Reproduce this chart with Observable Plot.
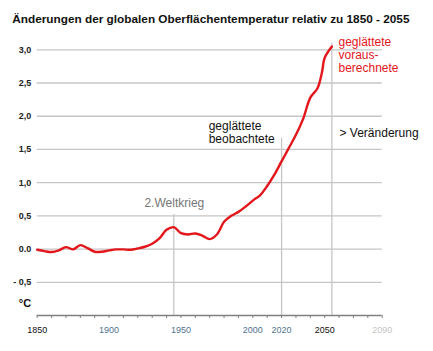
<!DOCTYPE html>
<html><head><meta charset="utf-8">
<script src="https://cdn.jsdelivr.net/npm/d3@7"></script>
<script src="https://cdn.jsdelivr.net/npm/@observablehq/plot@0.6"></script>
<style>body{margin:0;background:#fff}</style>
</head><body><div id="chart"></div>
<script>
const titleText = "Änderungen der globalen Oberflächentemperatur relativ zu 1850 - 2055";
const years = [1850,1855,1860,1865,1870,1875,1880,1885,1890,1895,1900,1905,1910,1915,1920,1925,1930,1935,1940,1945,1950,1955,1960,1965,1970,1975,1980,1985,1990,1995,2000,2005,2010,2015,2020,2025,2030,2035,2040,2045,2048,2050,2055];
const temps = [-0.01,-0.03,-0.045,-0.02,0.03,-0.005,0.06,0.015,-0.04,-0.04,-0.02,-0.005,-0.005,-0.01,0.01,0.035,0.08,0.16,0.29,0.33,0.24,0.22,0.235,0.2,0.15,0.22,0.41,0.5,0.56,0.64,0.73,0.81,0.95,1.12,1.32,1.52,1.72,1.96,2.28,2.42,2.65,2.88,3.05];
const yTicks = [-0.5,0,0.5,1,1.5,2,2.5,3];
const yLabels = ["- 0,5","0.0","0,5","1,0","1,5","2,0","2,5","3,0"];
const xTicks = [1850,1900,1950,2000,2020,2050,2090];
const xLabelKinds = ["key","mid","mid","mid","mid","key","future"];
const decadeTicks = d3.range(1850, 2091, 10);
const markerYears = [1945, 2020, 2055];
const markerTops = [0.52, 1.67, 3.1];

const data = years.map((y,i)=>({year:y, t:temps[i]}));
const markers = markerYears.map((y,i)=>({year:y, top:markerTops[i]}));
const xColor = {key:"#111", mid:"#4f7390", future:"#c4c4c4"};
const xLab = xTicks.map((y,i)=>({year:y, kind:xLabelKinds[i]}));
const yLab = yTicks.map((v,i)=>({v, label:yLabels[i]}));

const font = "Liberation Sans, Arial, Helvetica, sans-serif";
const chart = Plot.plot({
  width: 433, height: 351,
  marginTop: 49.3, marginBottom: 36, marginLeft: 36.7, marginRight: 51.3,
  style: {fontFamily: font, fontSize: "12px", background: "#fff", overflow: "visible"},
  x: {domain: [1850, 2090], axis: null},
  y: {domain: [-1, 3], axis: null},
  marks: [
    Plot.ruleY(yTicks, {stroke: "#c6c6c6", strokeWidth: 1.3}),
    Plot.ruleX(markers, {x: "year", y1: -1, y2: "top", stroke: "#c6c6c6", strokeWidth: 1.3}),
    Plot.ruleY([-1], {stroke: "#808080", strokeWidth: 1.5}),
    Plot.axisX({ticks: decadeTicks, tickSize: 3, tickFormat: () => "", stroke: "#808080", label: null}),
    Plot.text(xLab, {x: "year", y: -1, dy: 15, text: d => String(d.year), fill: d => xColor[d.kind], fontWeight: d => d.kind === "key" ? "bold" : "normal", fontSize: 9, textAnchor: "middle"}),
    Plot.text(yLab, {x: 1850, y: "v", text: "label", textAnchor: "end", dx: -6, fontWeight: "bold", fontSize: 9, fill: "#222"}),
    Plot.text(["°C"], {x: 1850, y: -0.82, textAnchor: "end", dx: -6, fontWeight: "bold", fontSize: 11, fill: "#111"}),
    Plot.line(data, {x: "year", y: "t", stroke: "#e3161b", strokeWidth: 2.4, curve: "catmull-rom"}),
    Plot.text(["2.Weltkrieg"], {x: 1924.6, y: 0.63, textAnchor: "start", lineAnchor: "bottom", fill: "#777", fontSize: 12}),
    Plot.text(["geglättete\nbeobachtete"], {x: 1969.3, y: 1.596, textAnchor: "start", lineAnchor: "bottom", fill: "#111", fontSize: 12, lineHeight: 1.05}),
    Plot.text(["> Veränderung"], {x: 2060.3, y: 1.68, textAnchor: "start", lineAnchor: "bottom", fill: "#111", fontSize: 12}),
    Plot.text(["geglättete\nvoraus-\nberechnete"], {x: 2059.6, y: 2.66, textAnchor: "start", lineAnchor: "bottom", fill: "#e3161b", fontSize: 12, lineHeight: 1.12}),
    Plot.text([titleText], {frameAnchor: "top-left", dx: -25, dy: -26.6, textAnchor: "start", lineAnchor: "bottom", fontWeight: "bold", fontSize: 11.8, fill: "#111"})
  ]
});
document.getElementById("chart").appendChild(chart);
</script></body></html>
